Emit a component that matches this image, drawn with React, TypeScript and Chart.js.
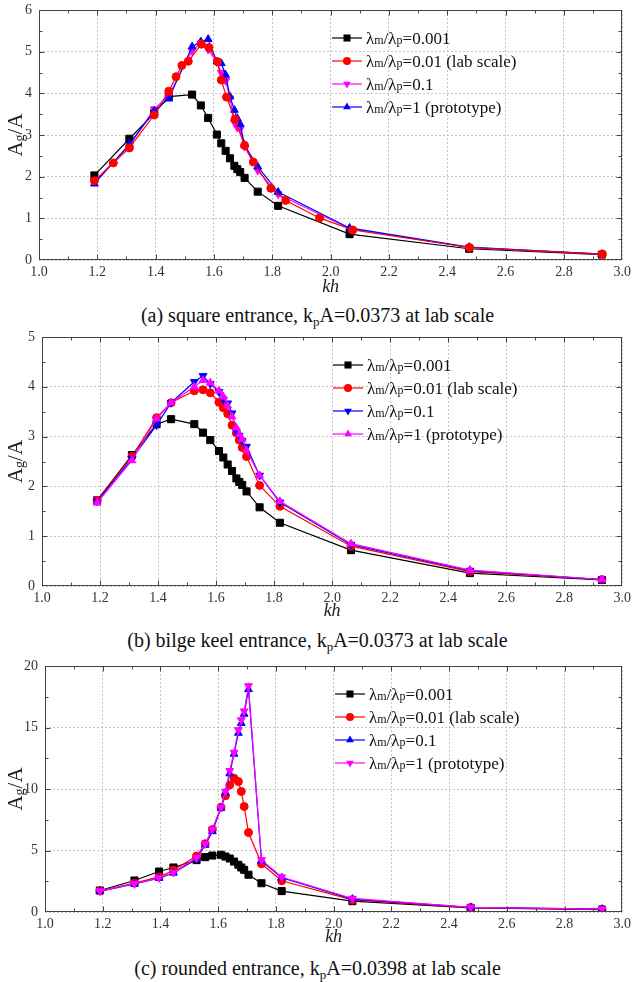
import React, { useEffect, useRef } from "react";
import { Chart, registerables } from "chart.js";
Chart.register(...registerables);

const SERIF = '"Liberation Serif", "Times New Roman", serif';

// shared kh grid
const KH = [1.19, 1.31, 1.395, 1.445, 1.525, 1.555, 1.58, 1.61, 1.625, 1.64, 1.655, 1.67, 1.68, 1.69, 1.705, 1.75, 1.82, 2.065, 2.475, 2.93];
// lab-scale series of panel (a) has its own kh values
const KH_A_LAB = [1.19, 1.255, 1.31, 1.395, 1.445, 1.47, 1.49, 1.512, 1.557, 1.583, 1.612, 1.625, 1.643, 1.672, 1.705, 1.735, 1.795, 1.846, 1.962, 2.076, 2.476, 2.932];

// (a) square entrance
const A_R0001 = [2.03, 2.91, 3.52, 3.92, 3.97, 3.71, 3.41, 3.01, 2.80, 2.62, 2.44, 2.26, 2.18, 2.11, 1.97, 1.64, 1.30, 0.62, 0.27, 0.13];
const A_R001 = [1.90, 2.33, 2.69, 3.48, 4.05, 4.40, 4.67, 4.77, 5.18, 5.10, 4.76, 4.32, 3.91, 3.38, 2.75, 2.35, 1.72, 1.43, 1.01, 0.72, 0.30, 0.14];
const A_R01 = [1.88, 2.74, 3.62, 3.95, 5.02, 5.20, 5.05, 4.75, 4.50, 4.30, 3.88, 3.30, 3.18, 3.15, 2.72, 2.15, 1.58, 0.75, 0.30, 0.14];
const A_R1 = [1.83, 2.78, 3.58, 3.87, 5.12, 5.24, 5.30, 4.76, 4.72, 4.44, 3.92, 3.60, 3.40, 3.26, 2.76, 2.24, 1.63, 0.77, 0.31, 0.14];

// (b) bilge keel entrance
const B_R0001 = [1.72, 2.63, 3.25, 3.35, 3.25, 3.08, 2.93, 2.71, 2.58, 2.44, 2.31, 2.16, 2.09, 2.03, 1.90, 1.58, 1.27, 0.72, 0.26, 0.12];
const B_R001 = [1.72, 2.60, 3.38, 3.68, 3.92, 3.94, 3.88, 3.69, 3.58, 3.46, 3.23, 3.07, 2.93, 2.78, 2.60, 2.02, 1.60, 0.80, 0.29, 0.13];
const B_R01 = [1.70, 2.56, 3.23, 3.68, 4.10, 4.22, 4.06, 3.90, 3.75, 3.67, 3.47, 3.10, 3.02, 2.92, 2.80, 2.22, 1.68, 0.83, 0.31, 0.13];
const B_R1 = [1.67, 2.52, 3.36, 3.68, 4.00, 4.13, 4.08, 3.92, 3.80, 3.62, 3.40, 3.18, 3.05, 2.95, 2.72, 2.22, 1.70, 0.85, 0.32, 0.13];

// (c) rounded entrance
const C_R0001 = [1.75, 2.56, 3.29, 3.62, 4.22, 4.46, 4.59, 4.65, 4.51, 4.35, 4.10, 3.84, 3.62, 3.43, 3.03, 2.34, 1.70, 0.88, 0.33, 0.20];
const C_R001 = [1.72, 2.35, 2.85, 3.40, 4.55, 5.55, 6.70, 8.51, 9.45, 10.32, 10.88, 10.60, 9.80, 8.58, 6.46, 3.92, 2.54, 0.98, 0.36, 0.22];
const C_R01 = [1.68, 2.28, 2.75, 3.18, 4.30, 5.45, 6.55, 8.45, 9.70, 11.25, 12.85, 14.55, 15.35, 16.10, 18.10, 4.15, 2.78, 1.05, 0.37, 0.23];
const C_R1 = [1.70, 2.30, 2.78, 3.21, 4.40, 5.54, 6.73, 8.49, 9.80, 11.48, 12.97, 14.80, 15.60, 16.33, 18.38, 4.24, 2.84, 1.10, 0.38, 0.24];

const X_MIN = 1.0;
const X_MAX = 3.0;
const X_STEP = 0.2;
const X_TITLE = "kh";

type Style = "rect" | "circle" | "triangle";
type Series = { suffix: string; color: string; style: Style; rot: number; radius: number; xs: number[]; ys: number[]; order: number };
type Panel = {
  top: number; height: number; padTop: number; yWidth: number; yMax: number; yStep: number; khOffset: number;
  legendX: number; series: Series[]; caption: [string, string, string]; captionTop: number;
};

const BLACK = "#000000";
const RED = "#ff0000";
const MAG = "#ff00ff";
const BLUE = "#0000ff";

const S_0001 = "=0.001";
const S_001 = "=0.01 (lab scale)";
const S_01 = "=0.1";
const S_1 = "=1 (prototype)";

const PANELS: Panel[] = [
  {
    top: -6, height: 304, padTop: 16, yWidth: 39, yMax: 6, yStep: 1, khOffset: 27, legendX: 332,
    series: [
      { suffix: S_0001, color: BLACK, style: "rect", rot: 0, radius: 5, xs: KH, ys: A_R0001, order: 4 },
      { suffix: S_001, color: RED, style: "circle", rot: 0, radius: 4, xs: KH_A_LAB, ys: A_R001, order: 1 },
      { suffix: S_01, color: MAG, style: "triangle", rot: 180, radius: 4.5, xs: KH, ys: A_R01, order: 3 },
      { suffix: S_1, color: BLUE, style: "triangle", rot: 0, radius: 4.5, xs: KH, ys: A_R1, order: 2 },
    ],
    caption: ["(a) square entrance, k", "p", "A=0.0373 at lab scale"], captionTop: 303,
  },
  {
    top: 321, height: 303, padTop: 16, yWidth: 42, yMax: 5, yStep: 1, khOffset: 25, legendX: 333,
    series: [
      { suffix: S_0001, color: BLACK, style: "rect", rot: 0, radius: 5, xs: KH, ys: B_R0001, order: 4 },
      { suffix: S_001, color: RED, style: "circle", rot: 0, radius: 4, xs: KH, ys: B_R001, order: 3 },
      { suffix: S_01, color: BLUE, style: "triangle", rot: 180, radius: 4.5, xs: KH, ys: B_R01, order: 2 },
      { suffix: S_1, color: MAG, style: "triangle", rot: 0, radius: 4.5, xs: KH, ys: B_R1, order: 1 },
    ],
    caption: ["(b) bilge keel entrance, k", "p", "A=0.0373 at lab scale"], captionTop: 628,
  },
  {
    top: 650, height: 300, padTop: 16, yWidth: 45, yMax: 20, yStep: 5, khOffset: 25, legendX: 335,
    series: [
      { suffix: S_0001, color: BLACK, style: "rect", rot: 0, radius: 5, xs: KH, ys: C_R0001, order: 4 },
      { suffix: S_001, color: RED, style: "circle", rot: 0, radius: 4, xs: KH, ys: C_R001, order: 3 },
      { suffix: S_01, color: BLUE, style: "triangle", rot: 0, radius: 4.5, xs: KH, ys: C_R01, order: 2 },
      { suffix: S_1, color: MAG, style: "triangle", rot: 180, radius: 4.5, xs: KH, ys: C_R1, order: 1 },
    ],
    caption: ["(c) rounded entrance, k", "p", "A=0.0398 at lab scale"], captionTop: 956,
  },
];

const FRAME = "#444444";

function drawMarker(ctx: CanvasRenderingContext2D, s: Series, x: number, y: number) {
  ctx.fillStyle = s.color;
  ctx.beginPath();
  if (s.style === "rect") {
    const h = Math.SQRT1_2 * s.radius;
    ctx.rect(x - h, y - h, 2 * h, 2 * h);
  } else if (s.style === "circle") {
    ctx.arc(x, y, s.radius, 0, Math.PI * 2);
  } else {
    let rad = (s.rot * Math.PI) / 180;
    for (let k = 0; k < 3; k++) {
      const px = x + Math.sin(rad) * s.radius;
      const py = y - Math.cos(rad) * s.radius;
      if (k === 0) ctx.moveTo(px, py);
      else ctx.lineTo(px, py);
      rad += (2 * Math.PI) / 3;
    }
    ctx.closePath();
  }
  ctx.fill();
}

function makeDecor(p: Panel) {
  return {
    id: "decor",
    afterDraw(chart: any) {
      const { ctx, chartArea: a, scales } = chart;
      const xs = scales.x;
      const ys = scales.y;
      ctx.save();
      // frame
      ctx.strokeStyle = FRAME;
      ctx.lineWidth = 1;
      const L = Math.round(a.left) + 0.5, R = Math.round(a.right) - 0.5;
      const T = Math.round(a.top) + 0.5, B = Math.round(a.bottom) - 0.5;
      ctx.strokeRect(L, T, R - L, B - T);
      // inward ticks
      ctx.beginPath();
      const nx = Math.round((X_MAX - X_MIN) / 0.1);
      for (let i = 1; i < nx; i++) {
        const v = X_MIN + i * 0.1;
        const px = Math.round(xs.getPixelForValue(v)) + 0.5;
        const len = i % 2 === 0 ? 5 : 3;
        ctx.moveTo(px, B); ctx.lineTo(px, B - len);
        ctx.moveTo(px, T); ctx.lineTo(px, T + len);
      }
      const ny = Math.round((p.yMax / p.yStep) * 2);
      for (let i = 1; i < ny; i++) {
        const v = (i * p.yStep) / 2;
        const py = Math.round(ys.getPixelForValue(v)) + 0.5;
        const len = i % 2 === 0 ? 5 : 3;
        ctx.moveTo(L, py); ctx.lineTo(L + len, py);
        ctx.moveTo(R, py); ctx.lineTo(R - len, py);
      }
      ctx.stroke();

      // x-axis title (italic kh)
      ctx.fillStyle = "#222";
      ctx.textAlign = "center";
      ctx.textBaseline = "middle";
      ctx.font = `italic 18px ${SERIF}`;
      ctx.fillText(X_TITLE, (a.left + a.right) / 2, a.bottom + p.khOffset);
      ctx.textAlign = "left";

      // y-axis title A_g/A
      const cy = (a.top + a.bottom) / 2;
      ctx.save();
      ctx.translate(16, cy);
      ctx.rotate(-Math.PI / 2);
      ctx.fillStyle = "#222";
      ctx.textBaseline = "middle";
      const big = `21px ${SERIF}`;
      const small = `14px ${SERIF}`;
      ctx.font = big; const wA = ctx.measureText("A").width;
      ctx.font = small; const wg = ctx.measureText("g").width;
      ctx.font = big; const wR = ctx.measureText("/A").width;
      let tx = -(wA + wg + wR) / 2;
      ctx.font = big; ctx.fillText("A", tx, 0); tx += wA;
      ctx.font = small; ctx.fillText("g", tx, 4); tx += wg;
      ctx.font = big; ctx.fillText("/A", tx, 0);
      ctx.restore();

      // legend
      ctx.textBaseline = "alphabetic";
      p.series.forEach((s, i) => {
        const yy = a.top + 28 + i * 23;
        ctx.strokeStyle = s.color;
        ctx.lineWidth = 1.2;
        ctx.beginPath();
        ctx.moveTo(p.legendX, yy); ctx.lineTo(p.legendX + 30, yy);
        ctx.stroke();
        drawMarker(ctx, s, p.legendX + 15, yy);
        let tx2 = p.legendX + 34;
        const by = yy + 6;
        ctx.fillStyle = "#111";
        const parts: [string, string][] = [["λ", `17px ${SERIF}`], ["m", `12px ${SERIF}`], ["/λ", `17px ${SERIF}`], ["p", `12px ${SERIF}`], [s.suffix, `17px ${SERIF}`]];
        parts.forEach(([t, f]) => {
          ctx.font = f;
          ctx.fillText(t, tx2, by);
          tx2 += ctx.measureText(t).width;
        });
      });
      ctx.restore();
    },
  };
}

function PanelChart({ p }: { p: Panel }) {
  const ref = useRef<HTMLCanvasElement>(null);
  useEffect(() => {
    const chart = new Chart(ref.current as HTMLCanvasElement, {
      type: "line",
      data: {
        datasets: p.series.map((s) => ({
          label: "λm/λp" + s.suffix,
          data: s.xs.map((x, i) => ({ x, y: s.ys[i] })),
          borderColor: s.color,
          backgroundColor: s.color,
          borderWidth: 1.2,
          pointStyle: s.style,
          pointRotation: s.rot,
          pointRadius: s.radius,
          pointBorderWidth: 1,
          pointBackgroundColor: s.color,
          pointBorderColor: s.color,
          tension: 0,
          fill: false,
          order: s.order,
        })),
      },
      options: {
        animation: false,
        responsive: false,
        events: [],
        layout: { padding: { top: p.padTop, right: 12, left: 0, bottom: 0 } },
        plugins: { legend: { display: false }, tooltip: { enabled: false } },
        scales: {
          x: {
            type: "linear",
            min: X_MIN,
            max: X_MAX,
            afterFit: (s: any) => { s.height = 38; },
            ticks: {
              stepSize: X_STEP,
              autoSkip: false,
              maxRotation: 0,
              padding: 4,
              color: "#333",
              font: { family: SERIF, size: 14 },
              callback: (v: any) => Number(v).toFixed(1),
            },
            grid: { color: "#c4c4c4", lineWidth: 1, drawTicks: false },
            border: { display: false, dash: [2, 2] },
            title: { display: false },
          },
          y: {
            type: "linear",
            min: 0,
            max: p.yMax,
            afterFit: (s: any) => { s.width = p.yWidth; },
            ticks: {
              stepSize: p.yStep,
              padding: 7,
              color: "#333",
              font: { family: SERIF, size: 14 },
              callback: (v: any) => String(v),
            },
            grid: { color: "#c4c4c4", lineWidth: 1, drawTicks: false },
            border: { display: false, dash: [2, 2] },
          },
        },
      },
      plugins: [makeDecor(p)],
    } as any);
    return () => chart.destroy();
  }, []);
  return (
    <canvas
      ref={ref}
      width={635}
      height={p.height}
      style={{ position: "absolute", left: 0, top: p.top, width: 635, height: p.height, display: "block" }}
    />
  );
}

export default function App() {
  return (
    <div style={{ position: "absolute", left: 0, top: 0, width: 635, height: 982, background: "#fff", overflow: "hidden" }}>
      {PANELS.map((p, i) => (
        <React.Fragment key={i}>
          <PanelChart p={p} />
          <div
            style={{
              position: "absolute", left: 0, top: p.captionTop, width: 635, textAlign: "center",
              fontFamily: SERIF, fontSize: 20, lineHeight: "24px", color: "#111", whiteSpace: "nowrap",
            }}
          >
            {p.caption[0]}
            <span style={{ fontSize: 13, verticalAlign: -4, lineHeight: 0 }}>{p.caption[1]}</span>
            {p.caption[2]}
          </div>
        </React.Fragment>
      ))}
    </div>
  );
}
